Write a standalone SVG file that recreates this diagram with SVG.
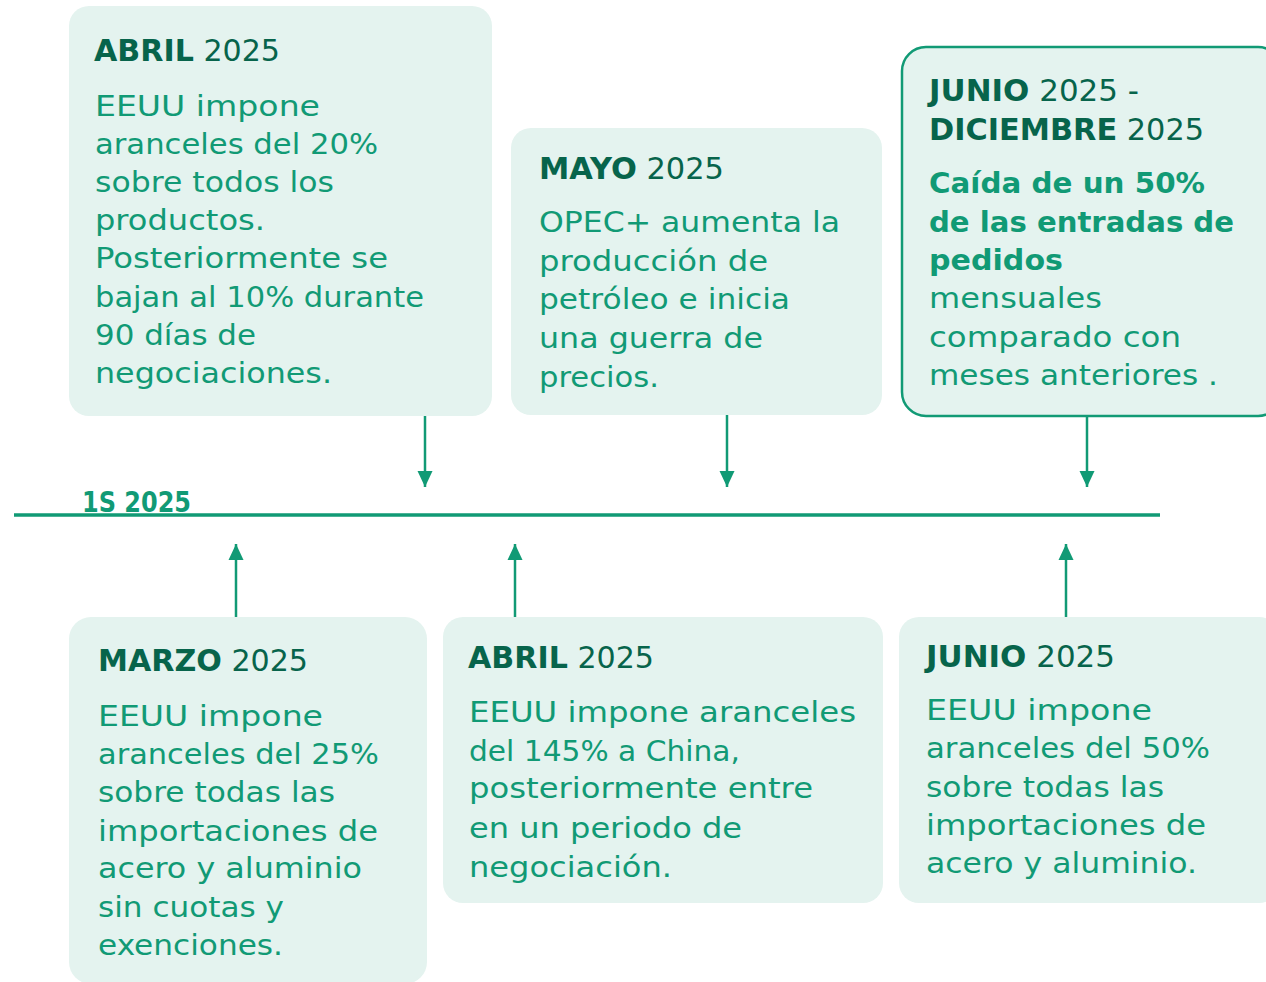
<svg xmlns="http://www.w3.org/2000/svg" width="1266" height="982" viewBox="0 0 1266 982">
<style>
.box{fill:#e4f3ef}
.boxs{fill:#e4f3ef;stroke:#119a75;stroke-width:2.5}
text{font-family:"DejaVu Sans","Liberation Sans",sans-serif}
.h{font-size:31px;fill:#07644b}
.h .b{font-weight:bold}
.t{font-size:29px;fill:#119a75}
.tb{font-size:29px;fill:#119a75;font-weight:bold}
.lbl{font-size:28px;fill:#119a75;font-weight:bold}
.ln{stroke:#119a75;stroke-width:2.5;fill:none}
</style>
<defs>
<marker id="ah" viewBox="0 0 16 16" refX="16" refY="8" markerWidth="16" markerHeight="16" markerUnits="userSpaceOnUse" orient="auto">
<path d="M0,0.5 L16,8 L0,15.5 Z" fill="#119a75"/>
</marker>
</defs>

<g id="connectors">
<line x1="14" y1="515" x2="1160" y2="515" stroke="#119a75" stroke-width="3.5"/>
<line class="ln" x1="425" y1="414" x2="425" y2="487" marker-end="url(#ah)"/>
<line class="ln" x1="727" y1="414" x2="727" y2="487" marker-end="url(#ah)"/>
<line class="ln" x1="1087" y1="414" x2="1087" y2="487" marker-end="url(#ah)"/>
<line class="ln" x1="236" y1="617" x2="236" y2="544" marker-end="url(#ah)"/>
<line class="ln" x1="515" y1="617" x2="515" y2="544" marker-end="url(#ah)"/>
<line class="ln" x1="1066" y1="617" x2="1066" y2="544" marker-end="url(#ah)"/>
</g>

<g id="label-1s">
<text class="lbl" x="82" y="512" textLength="109" lengthAdjust="spacingAndGlyphs">1S 2025</text>
</g>

<g id="abril-top">
<rect class="box" x="69" y="6" width="423" height="410" rx="20"/>
<text class="h" x="94" y="61" textLength="186" lengthAdjust="spacingAndGlyphs"><tspan class="b">ABRIL</tspan> 2025</text>
<text class="t" x="95" y="116" textLength="225" lengthAdjust="spacingAndGlyphs">EEUU impone</text>
<text class="t" x="95" y="154" textLength="283" lengthAdjust="spacingAndGlyphs">aranceles del 20%</text>
<text class="t" x="95" y="192" textLength="239" lengthAdjust="spacingAndGlyphs">sobre todos los</text>
<text class="t" x="95" y="230" textLength="170" lengthAdjust="spacingAndGlyphs">productos.</text>
<text class="t" x="95" y="268" textLength="293" lengthAdjust="spacingAndGlyphs">Posteriormente se</text>
<text class="t" x="95" y="307" textLength="329" lengthAdjust="spacingAndGlyphs">bajan al 10% durante</text>
<text class="t" x="95" y="345" textLength="161" lengthAdjust="spacingAndGlyphs">90 días de</text>
<text class="t" x="95" y="383" textLength="237" lengthAdjust="spacingAndGlyphs">negociaciones.</text>
</g>

<g id="mayo">
<rect class="box" x="511" y="128" width="371" height="287" rx="20"/>
<text class="h" x="539" y="179" textLength="185" lengthAdjust="spacingAndGlyphs"><tspan class="b">MAYO</tspan> 2025</text>
<text class="t" x="539" y="232" textLength="301" lengthAdjust="spacingAndGlyphs">OPEC+ aumenta la</text>
<text class="t" x="539" y="271" textLength="229" lengthAdjust="spacingAndGlyphs">producción de</text>
<text class="t" x="539" y="309" textLength="251" lengthAdjust="spacingAndGlyphs">petróleo e inicia</text>
<text class="t" x="539" y="348" textLength="224" lengthAdjust="spacingAndGlyphs">una guerra de</text>
<text class="t" x="539" y="387" textLength="120" lengthAdjust="spacingAndGlyphs">precios.</text>
</g>

<g id="junio-diciembre">
<rect class="boxs" x="902" y="47" width="380" height="369" rx="24"/>
<text class="h" x="929" y="101" textLength="210" lengthAdjust="spacingAndGlyphs"><tspan class="b">JUNIO</tspan> 2025 -</text>
<text class="h" x="929" y="140" textLength="275" lengthAdjust="spacingAndGlyphs"><tspan class="b">DICIEMBRE</tspan> 2025</text>
<text class="tb" x="929" y="193" textLength="276" lengthAdjust="spacingAndGlyphs">Caída de un 50%</text>
<text class="tb" x="929" y="232" textLength="305" lengthAdjust="spacingAndGlyphs">de las entradas de</text>
<text class="tb" x="929" y="270" textLength="134" lengthAdjust="spacingAndGlyphs">pedidos</text>
<text class="t" x="929" y="308" textLength="173" lengthAdjust="spacingAndGlyphs">mensuales</text>
<text class="t" x="929" y="347" textLength="252" lengthAdjust="spacingAndGlyphs">comparado con</text>
<text class="t" x="929" y="385" textLength="289" lengthAdjust="spacingAndGlyphs">meses anteriores .</text>
</g>

<g id="marzo">
<rect class="box" x="69" y="617" width="358" height="367" rx="22"/>
<text class="h" x="98" y="671" textLength="210" lengthAdjust="spacingAndGlyphs"><tspan class="b">MARZO</tspan> 2025</text>
<text class="t" x="98" y="726" textLength="225" lengthAdjust="spacingAndGlyphs">EEUU impone</text>
<text class="t" x="98" y="764" textLength="281" lengthAdjust="spacingAndGlyphs">aranceles del 25%</text>
<text class="t" x="98" y="802" textLength="237" lengthAdjust="spacingAndGlyphs">sobre todas las</text>
<text class="t" x="98" y="841" textLength="280" lengthAdjust="spacingAndGlyphs">importaciones de</text>
<text class="t" x="98" y="878" textLength="264" lengthAdjust="spacingAndGlyphs">acero y aluminio</text>
<text class="t" x="98" y="917" textLength="186" lengthAdjust="spacingAndGlyphs">sin cuotas y</text>
<text class="t" x="98" y="955" textLength="185" lengthAdjust="spacingAndGlyphs">exenciones.</text>
</g>

<g id="abril-bottom">
<rect class="box" x="443" y="617" width="440" height="286" rx="20"/>
<text class="h" x="468" y="668" textLength="186" lengthAdjust="spacingAndGlyphs"><tspan class="b">ABRIL</tspan> 2025</text>
<text class="t" x="469" y="722" textLength="387" lengthAdjust="spacingAndGlyphs">EEUU impone aranceles</text>
<text class="t" x="469" y="761" textLength="271" lengthAdjust="spacingAndGlyphs">del 145% a China,</text>
<text class="t" x="469" y="798" textLength="344" lengthAdjust="spacingAndGlyphs">posteriormente entre</text>
<text class="t" x="469" y="838" textLength="273" lengthAdjust="spacingAndGlyphs">en un periodo de</text>
<text class="t" x="469" y="877" textLength="203" lengthAdjust="spacingAndGlyphs">negociación.</text>
</g>

<g id="junio">
<rect class="box" x="899" y="617" width="380" height="286" rx="20"/>
<text class="h" x="926" y="667" textLength="189" lengthAdjust="spacingAndGlyphs"><tspan class="b">JUNIO</tspan> 2025</text>
<text class="t" x="926" y="720" textLength="226" lengthAdjust="spacingAndGlyphs">EEUU impone</text>
<text class="t" x="926" y="758" textLength="284" lengthAdjust="spacingAndGlyphs">aranceles del 50%</text>
<text class="t" x="926" y="797" textLength="238" lengthAdjust="spacingAndGlyphs">sobre todas las</text>
<text class="t" x="926" y="835" textLength="280" lengthAdjust="spacingAndGlyphs">importaciones de</text>
<text class="t" x="926" y="873" textLength="271" lengthAdjust="spacingAndGlyphs">acero y aluminio.</text>
</g>
</svg>
